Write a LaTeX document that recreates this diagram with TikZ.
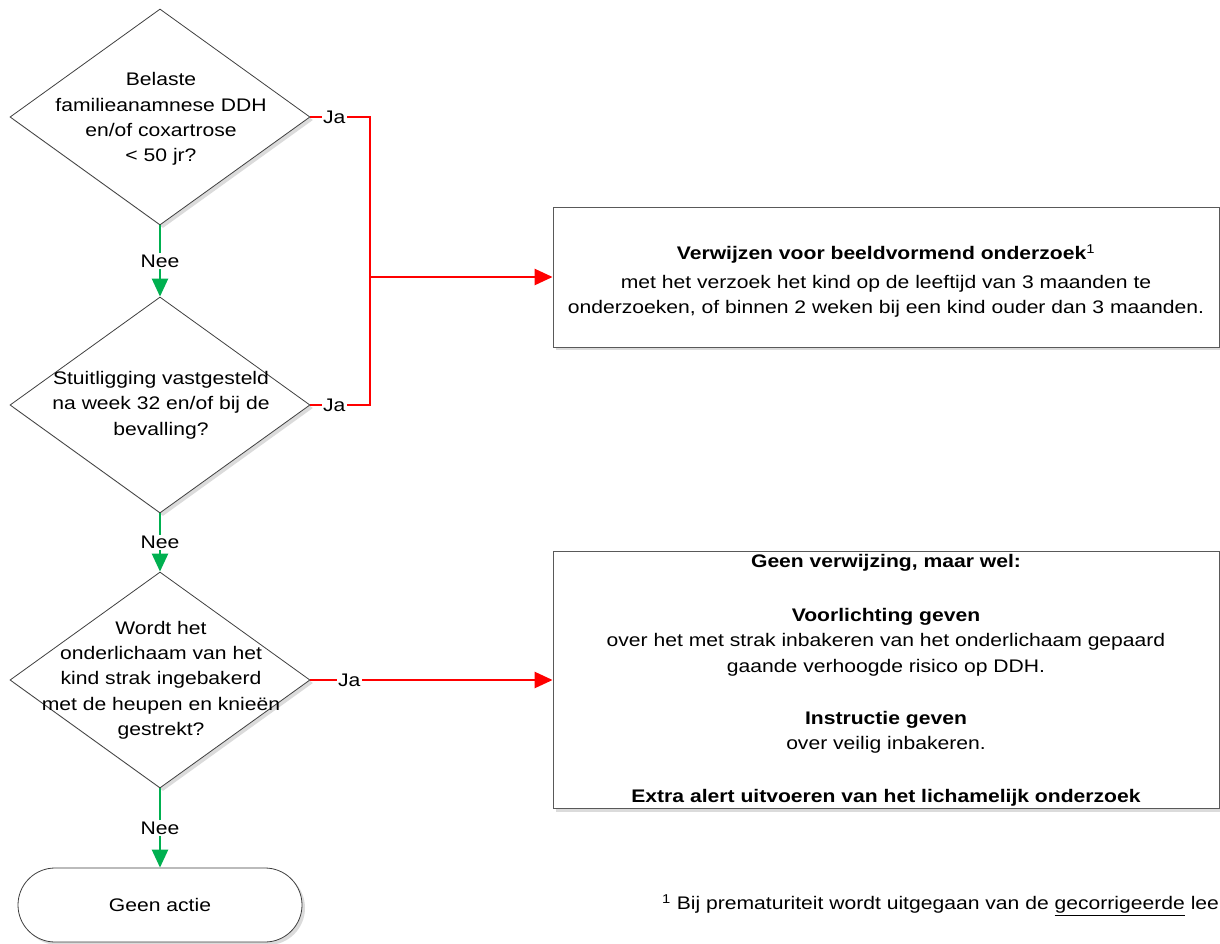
\documentclass[tikz,border=0pt]{standalone}
\usepackage{fontspec}
\setmainfont[FakeStretch=1.16]{Liberation Sans}
\usetikzlibrary{shapes.geometric,arrows.meta,shadows}
\definecolor{jared}{RGB}{255,0,0}
\definecolor{neegreen}{RGB}{0,176,80}
\begin{document}
\begin{tikzpicture}[x=1pt,y=-1pt,
  shad/.style={drop shadow={shadow xshift=3pt,shadow yshift=-3pt,fill=black!14,opacity=1}},
  dia/.style={draw=black!75, line width=0.8pt, diamond, minimum width=300pt, minimum height=216pt, inner sep=0pt, fill=white, shad},
  txt/.style={align=center, font=\fontsize{18.2}{25.3}\selectfont, inner sep=0pt},
  boxnode/.style={draw=black!65, line width=0.8pt, rectangle, fill=white, minimum width=666pt, inner sep=0pt, shad},
  termnode/.style={draw=black!75, line width=0.8pt, rectangle, rounded corners=37pt, fill=white, minimum width=284pt, minimum height=74pt, inner sep=0pt, shad},
  redline/.style={draw=jared, line width=2.5pt},
  greenline/.style={draw=neegreen, line width=2.5pt},
  tip/.style={-{Triangle[length=18pt,width=16pt]}},
  lab/.style={fill=white, inner sep=1.5pt, font=\fontsize{18.2}{22}\selectfont, text=black}
]
\useasboundingbox (0,0) rectangle (1220,944);
\fill[white] (0,0) rectangle (1220,944);

% diamonds
\node[dia] (d1) at (160,117) {};
\node[txt] (t1) at (161,119) {Belaste\\familieanamnese DDH\\en/of coxartrose\\< 50 jr?};
\node[dia] (d2) at (160,405) {};
\node[txt] (t2) at (161,405) {Stuitligging vastgesteld\\na week 32 en/of bij de\\bevalling?};
\node[dia] (d3) at (160,680) {};
\node[txt] (t3) at (161,680) {Wordt het\\onderlichaam van het\\kind strak ingebakerd\\met de heupen en knieën\\gestrekt?};

% terminal
\node[termnode] (term) at (160,905) {};
\node[txt] (tt) at (term.center) {Geen actie};

% boxes
\node[boxnode, minimum height=140pt] (b1) at (886,277) {};
\node[txt] (tb1) at (886,281) {\textbf{Verwijzen voor beeldvormend onderzoek}\textsuperscript{1}\\[4pt]met het verzoek het kind op de leeftijd van 3 maanden te\\onderzoeken, of binnen 2 weken bij een kind ouder dan 3 maanden.};
\node[boxnode, minimum height=257pt] (b2) at (886,680) {};
\node[txt] (tb2) at (886,680) {\textbf{Geen verwijzing, maar wel:}\\[29pt]\textbf{Voorlichting geven}\\over het met strak inbakeren van het onderlichaam gepaard\\gaande verhoogde risico op DDH.\\[27pt]\textbf{Instructie geven}\\over veilig inbakeren.\\[27pt]\textbf{Extra alert uitvoeren van het lichamelijk onderzoek}};

% footnote
\node[txt, anchor=west] (fn) at (662,905) {\textsuperscript{1} Bij prematuriteit wordt uitgegaan van de \underline{gecorrigeerde} lee};

% junction
\coordinate (jx) at (370,277);

% red connectors
\draw[redline] (d1.east) -- node[lab, pos=0.4] {Ja} (d1.east -| jx) -- (jx);
\draw[redline] (d2.east) -- node[lab, pos=0.4] {Ja} (d2.east -| jx) -- (jx);
\draw[redline, tip] (jx) -- (b1.west);
\draw[redline, tip] (d3.east) -- node[lab, pos=0.16] {Ja} (b2.west);

% green connectors
\draw[greenline, tip] (d1.south) -- node[lab] {Nee} (d2.north);
\draw[greenline, tip] (d2.south) -- node[lab] {Nee} (d3.north);
\draw[greenline, tip] (d3.south) -- node[lab] {Nee} (term.north);
\end{tikzpicture}
\end{document}
